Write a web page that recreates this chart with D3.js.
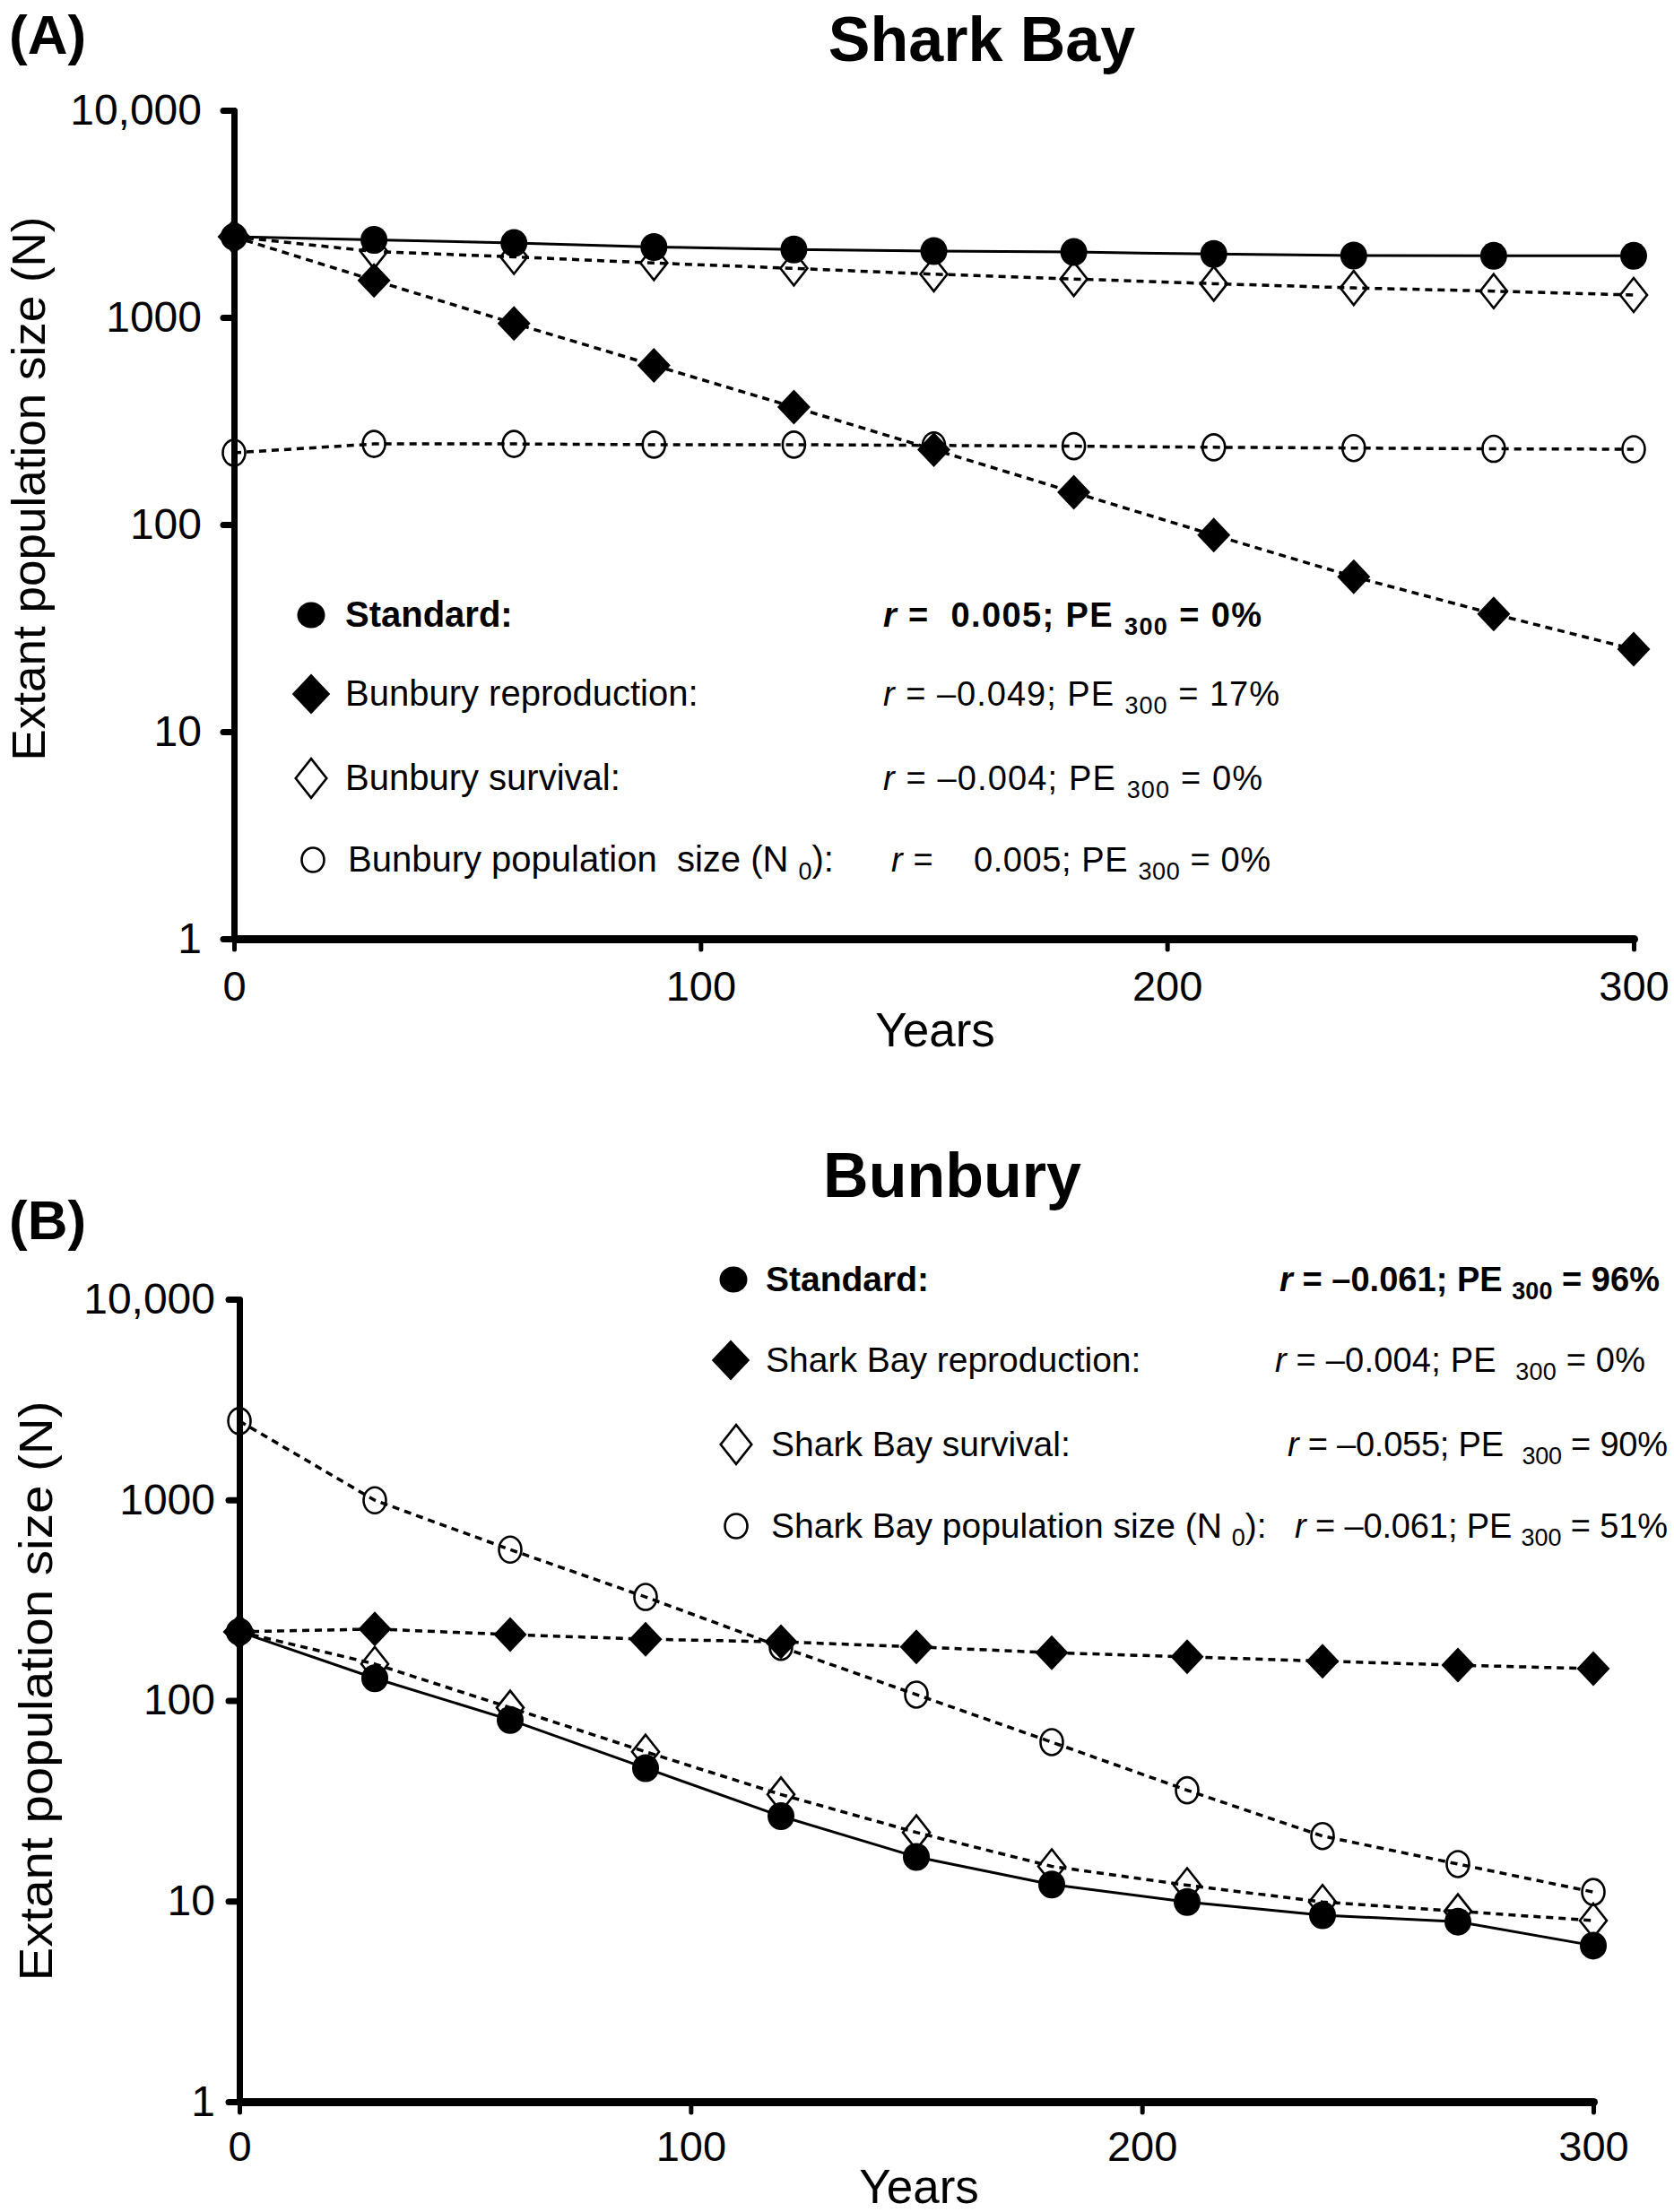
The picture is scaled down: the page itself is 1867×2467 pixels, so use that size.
<!DOCTYPE html>
<html><head><meta charset="utf-8">
<script src="https://cdn.jsdelivr.net/npm/d3@7"></script>
<style>
body{margin:0;background:#fff}
svg text{font-family:"Liberation Sans",Arial,Helvetica,sans-serif;fill:#000}
</style>
</head><body>
<svg id="chart" width="1867" height="2467"></svg>
<script>
// ---------- data ----------
const years = [0, 30, 60, 90, 120, 150, 180, 210, 240, 270, 300];

// Panel A: Shark Bay
const sharkStandard     = [2450, 2370, 2285, 2188, 2127, 2091, 2068, 2023, 1990, 1982, 1982];
const sharkBunburyRepro = [2450, 1510, 936, 587, 369, 230, 143, 89, 56, 37, 25];
const sharkBunburySurv  = [2450, 2080, 1960, 1831, 1725, 1617, 1533, 1455, 1388, 1339, 1283];
const sharkBunburyN0    = [222, 245, 245, 243, 243, 241, 239, 236, 234, 232, 231];

// Panel B: Bunbury
const bunStandard   = [220, 129, 80, 46, 26.5, 16.6, 12.1, 9.9, 8.5, 7.9, 6.0];
const bunSharkRepro = [220, 227, 213, 202, 196, 185, 173, 165, 157, 150, 144];
const bunSharkSurv  = [220, 152, 92, 55.5, 34, 22, 14.9, 12, 9.9, 8.9, 8.0];
const bunSharkN0    = [2470, 995, 565, 328, 185, 107, 62, 35.7, 21.1, 15.3, 11.1];

const yTicks = [1, 10, 100, 1000, 10000];
const yTickLabels = ["1", "10", "100", "1000", "10,000"];
const xTicks = [0, 100, 200, 300];

const legendNamesA = ["Standard:", "Bunbury reproduction:", "Bunbury survival:", "Bunbury population  size (N "];
const legendStatsA = [
  ["r", " =  0.005; PE ", "300", " = 0%"],
  ["r", " = \u20130.049; PE ", "300", " = 17%"],
  ["r", " = \u20130.004; PE ", "300", " = 0%"],
  ["r", " =    0.005; PE ", "300", " = 0%"]
];
const legendNamesB = ["Standard:", "Shark Bay reproduction:", "Shark Bay survival:", "Shark Bay population size (N "];
const legendStatsB = [
  ["r", " = \u20130.061; PE ", "300", " = 96%"],
  ["r", " = \u20130.004; PE  ", "300", " = 0%"],
  ["r", " = \u20130.055; PE  ", "300", " = 90%"],
  ["r", " = \u20130.061; PE ", "300", " = 51%"]
];

// ---------- drawing ----------
const svg = d3.select("#chart");
svg.append("rect").attr("width", 1867).attr("height", 2467).attr("fill", "#fff");

function markerPath(type, big) {
  const k = big ? 1.15 : 1;
  if (type === "fd") { const w = 18.5 * k, h = 19.5 * k; return `M0,${-h}L${w},0L0,${h}L${-w},0Z`; }
  const w = 15 * k, h = 19 * k; return `M0,${-h}L${w},0L0,${h}L${-w},0Z`;
}
function drawMarker(g, type, x, y, big) {
  if (type === "fc") {
    g.append("ellipse").attr("cx", x).attr("cy", y).attr("rx", big ? 15.5 : 15).attr("ry", big ? 14.5 : 15.5).attr("fill", "#000");
  } else if (type === "oc") {
    g.append("ellipse").attr("cx", x).attr("cy", y).attr("rx", 12.5).attr("ry", big ? 13.5 : 14.5)
      .attr("fill", "none").attr("stroke", "#000").attr("stroke-width", 2.6);
  } else if (type === "fd") {
    g.append("path").attr("transform", `translate(${x},${y})`).attr("d", markerPath("fd", big)).attr("fill", "#000");
  } else {
    g.append("path").attr("transform", `translate(${x},${y})`).attr("d", markerPath("od", big))
      .attr("fill", "none").attr("stroke", "#000").attr("stroke-width", 2.6);
  }
}

function statText(g, x, y, parts, bold, len) {
  const t = g.append("text").attr("x", x).attr("y", y).attr("font-size", 38)
    .attr("font-weight", bold ? "bold" : "normal").style("white-space", "pre")
    .attr("textLength", len).attr("lengthAdjust", "spacing");
  t.append("tspan").attr("font-style", "italic").text(parts[0]);
  t.append("tspan").text(parts[1]);
  t.append("tspan").attr("font-size", 27).attr("dy", 9).text(parts[2]);
  t.append("tspan").attr("dy", -9).text(parts[3]);
}

function drawPanel(cfg) {
  const g = svg.append("g");
  const x = d3.scaleLinear().domain([0, 300]).range([cfg.x0, cfg.x1]);
  const y = d3.scaleLog().domain([1, 10000]).range([cfg.yBot, cfg.yTop]);

  // panel letter & title
  g.append("text").attr("x", 10).attr("y", cfg.letterY).attr("font-size", 62).attr("font-weight", "bold").text(cfg.letter);
  g.append("text").attr("x", cfg.titleX).attr("y", cfg.titleY).attr("font-size", 70).attr("font-weight", "bold")
    .attr("text-anchor", "middle").text(cfg.title);

  // axes
  const ya = g.append("g").attr("transform", `translate(${cfg.x0},0)`)
    .call(d3.axisLeft(y).tickValues(yTicks).tickFormat(d => yTickLabels[yTicks.indexOf(d)])
      .tickSize(12).tickSizeOuter(0).tickPadding(cfg.yPad));
  ya.select(".domain").attr("stroke-width", 7).attr("stroke-linecap", "round");
  ya.selectAll(".tick line").attr("stroke-width", 7).attr("stroke-linecap", "round");
  ya.selectAll(".tick text").attr("font-size", 48).attr("font-family", "Liberation Sans, Arial, sans-serif");

  const xa = g.append("g").attr("transform", `translate(0,${cfg.yBot})`)
    .call(d3.axisBottom(x).tickValues(xTicks).tickFormat(d3.format("d"))
      .tickSize(12).tickSizeOuter(0).tickPadding(cfg.xPad));
  xa.select(".domain").attr("stroke-width", 9).attr("stroke-linecap", "round");
  xa.selectAll(".tick line").attr("stroke-width", 5).attr("stroke-linecap", "round");
  xa.selectAll(".tick text").attr("font-size", 47).attr("font-family", "Liberation Sans, Arial, sans-serif");

  // axis titles
  g.append("text").attr("x", cfg.xLabelX).attr("y", cfg.xLabelY).attr("font-size", 53)
    .attr("text-anchor", "middle").text("Years");
  g.append("text").attr("transform", `translate(${cfg.yLabelX},${cfg.yLabelY}) rotate(-90)`)
    .attr("font-size", 52).attr("text-anchor", "middle")
    .attr("textLength", cfg.yLabelLen).attr("lengthAdjust", "spacingAndGlyphs")
    .text("Extant population size (N)");

  // lines
  const line = d3.line().x((d, i) => x(years[i])).y(d => y(d));
  cfg.series.forEach(s => {
    g.append("path").datum(s.values).attr("d", line).attr("fill", "none").attr("stroke", "#000")
      .attr("stroke-width", s.dashed ? 3.5 : 3)
      .attr("stroke-dasharray", s.dashed ? "8,6" : null);
  });
  // markers
  cfg.markerOrder.forEach(idx => {
    const s = cfg.series[idx];
    s.values.forEach((v, i) => drawMarker(g, s.marker, x(years[i]), y(v), false));
  });

  // legend
  const lg = cfg.legend;
  lg.names.forEach((name, i) => {
    const by = lg.baseY[i];
    drawMarker(g, lg.markers[i], lg.markerX[i], by - 13, true);
    const t = g.append("text").attr("x", lg.nameX[i]).attr("y", by).attr("font-size", lg.nameSize)
      .attr("font-weight", i === 0 ? "bold" : "normal").style("white-space", "pre");
    t.append("tspan").text(name);
    if (i === 3) {
      t.append("tspan").attr("font-size", 27).attr("dy", 9).text("0");
      t.append("tspan").attr("dy", -9).text("):");
    }
    statText(g, lg.statX[i], by, lg.stats[i], i === 0, lg.statLen[i]);
  });
}

drawPanel({
  letter: "(A)", letterY: 60, title: "Shark Bay", titleX: 1095, titleY: 68,
  x0: 261, x1: 1822, yTop: 123, yBot: 1047, yPad: 24, xPad: 24,
  xLabelX: 1043, xLabelY: 1167, yLabelX: 50, yLabelY: 545, yLabelLen: 607,
  series: [
    { values: sharkStandard, marker: "fc", dashed: false },
    { values: sharkBunburyRepro, marker: "fd", dashed: true },
    { values: sharkBunburySurv, marker: "od", dashed: true },
    { values: sharkBunburyN0, marker: "oc", dashed: true }
  ],
  markerOrder: [3, 2, 0, 1],
  legend: {
    names: legendNamesA, stats: legendStatsA, markers: ["fc", "fd", "od", "oc"], nameSize: 40,
    baseY: [699, 787, 881, 972], markerX: [347, 347, 347, 349],
    nameX: [385, 385, 385, 388], statX: [985, 985, 985, 994],
    statLen: [422, 442, 423, 423]
  }
});

drawPanel({
  letter: "(B)", letterY: 1382, title: "Bunbury", titleX: 1062, titleY: 1335,
  x0: 267, x1: 1777, yTop: 1449, yBot: 2344, yPad: 15, xPad: 21,
  xLabelX: 1025, xLabelY: 2457, yLabelX: 58, yLabelY: 1886, yLabelLen: 647,
  series: [
    { values: bunStandard, marker: "fc", dashed: false },
    { values: bunSharkRepro, marker: "fd", dashed: true },
    { values: bunSharkSurv, marker: "od", dashed: true },
    { values: bunSharkN0, marker: "oc", dashed: true }
  ],
  markerOrder: [3, 2, 0, 1],
  legend: {
    names: legendNamesB, stats: legendStatsB, markers: ["fc", "fd", "od", "oc"], nameSize: 39,
    baseY: [1440, 1530, 1624, 1715], markerX: [818, 815, 821, 821],
    nameX: [854, 854, 860, 860], statX: [1427, 1422, 1436, 1444],
    statLen: [424, 413, 424, 416]
  }
});
</script>
</body></html>
